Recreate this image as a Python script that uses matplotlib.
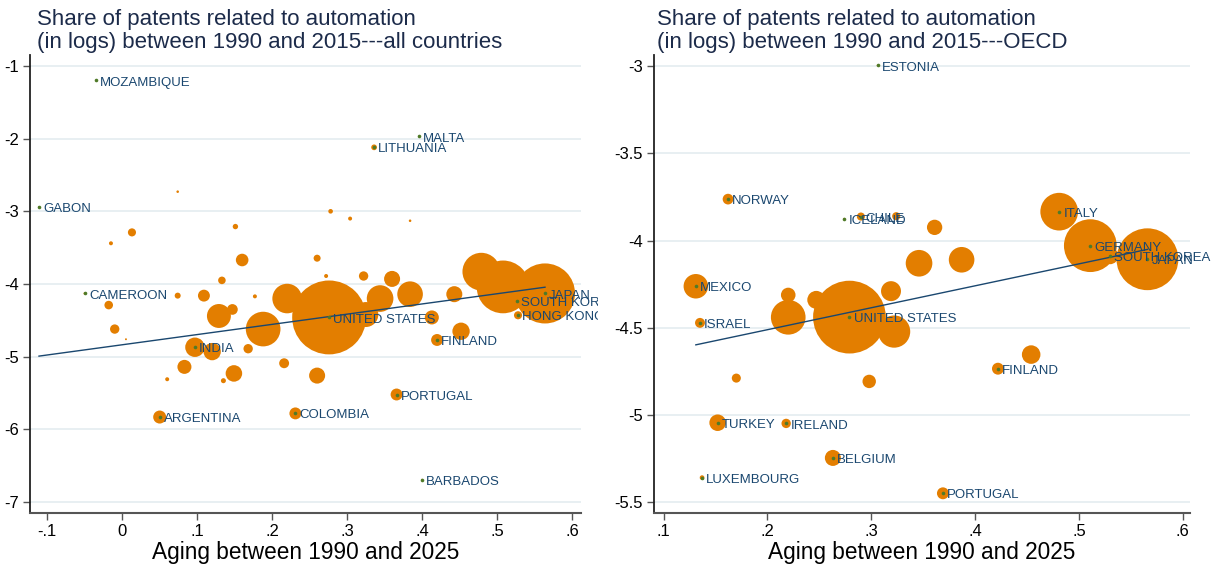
import numpy as np
import matplotlib
matplotlib.use("Agg")
import matplotlib.pyplot as plt
from matplotlib.patches import Rectangle

plt.rcParams['font.family'] = ['Liberation Sans', 'DejaVu Sans']

# ---- all countries (left panel) ----
all_names = ["MOZAMBIQUE", "GABON", "MALTA", "LITHUANIA", "CAMEROON", "INDIA",
             "ARGENTINA", "COLOMBIA", "UNITED STATES", "PORTUGAL", "FINLAND",
             "JAPAN", "SOUTH KOREA", "HONG KONG", "BARBADOS"]
all_lab_x = [-0.035, -0.111, 0.396, 0.336, -0.050, 0.097, 0.050, 0.231, 0.276,
             0.366, 0.420, 0.564, 0.527, 0.528, 0.400]
all_lab_y = [-1.20, -2.94, -1.97, -2.12, -4.13, -4.87, -5.83, -5.78, -4.46,
             -5.52, -4.77, -4.13, -4.23, -4.43, -6.69]
all_lab_w = [0.05, 0.05, 0.05, 0.6, 0.1, 6.9, 3.1, 2.6, 100,
             2.6, 2.6, 66, 3.0, 1.2, 0.05]

all_x = [0.074, 0.278, 0.304, 0.384, 0.013, -0.015, 0.151, 0.160, 0.260, 0.272,
         0.133, 0.074, 0.109, 0.177, -0.018, -0.010, 0.005, 0.147, 0.129, 0.188,
         0.220, 0.120, 0.168, 0.083, 0.060, 0.149, 0.135, 0.216, 0.260, 0.322,
         0.360, 0.384, 0.344, 0.325, 0.413, 0.443, 0.452, 0.479, 0.508]
all_y = [-2.73, -3.00, -3.10, -3.13, -3.29, -3.44, -3.21, -3.67, -3.645, -3.89,
         -3.95, -4.16, -4.16, -4.17, -4.29, -4.62, -4.76, -4.35, -4.44, -4.62,
         -4.20, -4.93, -4.89, -5.14, -5.31, -5.23, -5.33, -5.09, -5.26, -3.89,
         -3.93, -4.14, -4.20, -4.42, -4.46, -4.14, -4.65, -3.83, -4.04]
all_w = [0.12, 0.39, 0.29, 0.12, 1.2, 0.29, 0.53, 2.9, 0.9, 0.29,
         1.05, 0.66, 2.6, 0.29, 1.35, 1.6, 0.07, 2.1, 10.5, 22,
         16, 5.5, 1.6, 3.6, 0.29, 5.0, 0.46, 1.8, 4.7, 1.6,
         4.7, 12, 13, 11.4, 3.6, 4.7, 5.5, 26, 51]
all_fit = [-4.836, 1.404]   # intercept, slope

# ---- OECD (right panel) ----
oecd_names = ["ESTONIA", "NORWAY", "ICELAND", "CHILE", "ITALY", "GERMANY",
              "SOUTH KOREA", "JAPAN", "MEXICO", "ISRAEL", "UNITED STATES",
              "FINLAND", "TURKEY", "IRELAND", "BELGIUM", "LUXEMBOURG", "PORTUGAL"]
oecd_lab_x = [0.306, 0.162, 0.274, 0.290, 0.481, 0.511, 0.530, 0.566, 0.131,
              0.135, 0.279, 0.422, 0.152, 0.218, 0.263, 0.137, 0.369]
oecd_lab_y = [-2.995, -3.762, -3.876, -3.862, -3.834, -4.029, -4.088, -4.107,
              -4.262, -4.472, -4.439, -4.735, -5.045, -5.049, -5.247, -5.36, -5.45]
oecd_lab_w = [0.05, 2.1, 0.1, 1.2, 26, 51, 5.0, 70, 11,
              1.8, 97, 2.6, 5.0, 1.6, 4.7, 0.4, 2.6]

oecd_x = [0.324, 0.361, 0.220, 0.220, 0.247, 0.319, 0.322, 0.346, 0.387,
          0.454, 0.170, 0.298]
oecd_y = [-3.86, -3.924, -4.312, -4.44, -4.34, -4.29, -4.522, -4.13, -4.11,
          -4.654, -4.789, -4.808]
oecd_w = [1.2, 4.3, 3.9, 22, 5.9, 7.3, 19, 13, 12, 6.3, 1.5, 3.3]
oecd_fit = [-4.763, 1.259]

ORANGE = "#e37e00"
NAVY = "#1a476f"
GREEN = "#4f7a28"
TITLE_C = "#1c2b4a"
GRID = "#e6eef1"

fig = plt.figure(figsize=(12.14, 5.67), dpi=100)
W, H = 1214, 567


def panel(rect, names, lx, ly, lw, ox, oy, ow, fit, xlim, ylim, yticks, ylabels,
          xticks, xlabels, title, tx, clip_right):
    ax = fig.add_axes([rect[0] / W, 1 - rect[3] / H, (rect[2] - rect[0]) / W,
                       (rect[3] - rect[1]) / H])
    bx = np.array(ox + lx)
    by = np.array(oy + ly)
    bw = np.array(ow + lw)
    ax.scatter(bx, by, s=bw * 28.3, color=ORANGE, linewidths=0, zorder=2)

    xs = np.array([bx.min(), bx.max()])
    ax.plot(xs, fit[0] + fit[1] * xs, color=NAVY, lw=1.0, zorder=3)

    ax.plot(lx, ly, 'o', color=GREEN, ms=2.6, mew=0, zorder=4)
    clip = Rectangle((0, 0), clip_right / W, 1, transform=fig.transFigure)
    for n, x, y in zip(names, lx, ly):
        t = ax.annotate(n, (x, y), xytext=(3, -1.5), textcoords='offset points',
                        ha='left', va='center', fontsize=9.5, color=NAVY,
                        zorder=5, annotation_clip=False)
        t.set_clip_path(clip)

    ax.set_xlim(xlim)
    ax.set_ylim(ylim)
    ax.set_yticks(yticks)
    ax.set_yticklabels(ylabels)
    ax.set_xticks(xticks)
    ax.set_xticklabels(xlabels)
    ax.yaxis.grid(True, color=GRID, lw=1.3)
    ax.set_axisbelow(True)
    for s in ['top', 'right']:
        ax.spines[s].set_visible(False)
    ax.spines['left'].set_color('#222222')
    ax.spines['bottom'].set_color('#555555')
    ax.spines['left'].set_linewidth(1.3)
    ax.spines['bottom'].set_linewidth(1.5)
    ax.tick_params(labelsize=12, direction='out', length=5, width=1,
                   color='#555555', pad=3)
    ax.set_xlabel("Aging between 1990 and 2025", fontsize=16.3, labelpad=1)
    fig.text(tx / W, 1 - 9 / H, title, ha='left', va='top', fontsize=16,
             color=TITLE_C, linespacing=1.12)
    return ax


panel((30, 55, 581, 513), all_names, all_lab_x, all_lab_y, all_lab_w,
      all_x, all_y, all_w, all_fit, (-0.123, 0.612), (-7.15, -0.85),
      [-7, -6, -5, -4, -3, -2, -1], ["-7", "-6", "-5", "-4", "-3", "-2", "-1"],
      [-0.1, 0, 0.1, 0.2, 0.3, 0.4, 0.5, 0.6],
      ["-.1", "0", ".1", ".2", ".3", ".4", ".5", ".6"],
      "Share of patents related to automation\n(in logs) between 1990 and 2015---all countries",
      37, 598)

panel((654, 55, 1190, 513), oecd_names, oecd_lab_x, oecd_lab_y, oecd_lab_w,
      oecd_x, oecd_y, oecd_w, oecd_fit, (0.0907, 0.607), (-5.563, -2.935),
      [-5.5, -5, -4.5, -4, -3.5, -3], ["-5.5", "-5", "-4.5", "-4", "-3.5", "-3"],
      [0.1, 0.2, 0.3, 0.4, 0.5, 0.6], [".1", ".2", ".3", ".4", ".5", ".6"],
      "Share of patents related to automation\n(in logs) between 1990 and 2015---OECD",
      657, W)

fig.savefig("out.png", dpi=100)
